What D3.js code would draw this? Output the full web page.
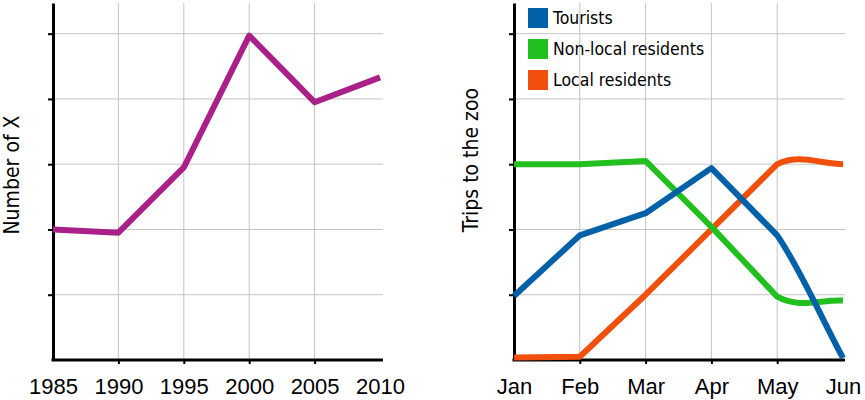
<!DOCTYPE html>
<html>
<head>
<meta charset="utf-8">
<script src="https://cdn.jsdelivr.net/npm/d3@7"></script>
<style>
  html, body { margin: 0; padding: 0; background: #fff; }
  svg { display: block; font-family: "DejaVu Sans Condensed", "Liberation Sans Narrow", sans-serif; font-stretch: condensed; }
  .grid line { stroke: #c4c4c4; stroke-width: 1; }
  .axis path, .axis line { stroke: #000; }
  .axis path { stroke-width: 3; }
  .axis line { stroke-width: 2; }
  .axis text { font-size: 22px; fill: #000; }
  .ylabel { font-size: 21px; fill: #000; }
  .legend text { font-size: 17.5px; fill: #000; }
</style>
</head>
<body>
<svg id="chart" width="865" height="400"></svg>
<script>
// Left chart
const years = [1985, 1990, 1995, 2000, 2005, 2010];
const numberOfX = [2.0, 1.95, 2.95, 4.97, 3.95, 4.33];

// Right chart
const months = ["Jan", "Feb", "Mar", "Apr", "May", "Jun"];
const tourists = [0.98, 1.91, 2.25, 2.94, 1.91, 0.03];
const nonLocal = [3.0, 3.0, 3.05, 2.04, 0.97, 0.91];
const local = [0.04, 0.05, 1.0, 2.0, 3.0, 3.0];

const seriesNames = ["Tourists", "Non-local residents", "Local residents"];
const seriesColors = ["#0061a9", "#21c01f", "#f0500c"];

const gridValues = [1, 2, 3, 4, 5];

const svg = d3.select("#chart");
const plotTop = 3, plotBottom = 360;
const yMax = 5.47;

function drawFrame(x, xTicks, gridX, y, left, right, fmt) {
  const g = svg.append("g");
  // gridlines
  const grid = g.append("g").attr("class", "grid");
  grid.selectAll(".h").data(gridValues).join("line")
    .attr("x1", left).attr("x2", right)
    .attr("y1", (d) => y(d)).attr("y2", (d) => y(d));
  grid.selectAll(".v").data(gridX).join("line")
    .attr("x1", (d) => x(d)).attr("x2", (d) => x(d))
    .attr("y1", plotTop).attr("y2", plotBottom);

  // y axis: ticks only at gridlines
  const yAxis = d3.axisLeft(y).tickValues(gridValues).tickFormat("").tickSize(5).tickSizeOuter(0);
  g.append("g").attr("class", "axis")
    .attr("transform", `translate(${left},0)`)
    .call(yAxis);

  // x axis
  const xAxis = d3.axisBottom(x).tickValues(xTicks).tickFormat(fmt).tickSize(4).tickPadding(14).tickSizeOuter(0);
  const gx = g.append("g").attr("class", "axis")
    .attr("transform", `translate(0,${plotBottom})`)
    .call(xAxis);
  gx.select(".domain").attr("d", `M${left - 1.5},0H${right}`);
  // no tick marks at the ends
  gx.selectAll(".tick line").filter((d) => !gridX.includes(d)).remove();
  return g;
}

// ---------- Left panel ----------
{
  const left = 53, right = 383;
  const x = d3.scaleLinear().domain([1985, 2010]).range([53, 380]);
  const y = d3.scaleLinear().domain([0, yMax]).range([plotBottom, plotTop]);
  drawFrame(x, years, years.slice(1, 5), y, left, right, d3.format("d"));

  const line = d3.line().x((d, i) => x(years[i])).y((d) => y(d));
  svg.append("path")
    .attr("d", line(numberOfX))
    .attr("fill", "none")
    .attr("stroke", "#a92089")
    .attr("stroke-width", 6)
    .attr("stroke-linejoin", "round");

  svg.append("text").attr("class", "ylabel")
    .attr("transform", `translate(19,175) rotate(-90)`)
    .attr("text-anchor", "middle")
    .text("Number of X");
}

// ---------- Right panel ----------
{
  const left = 514, right = 845;
  const x = d3.scalePoint().domain(months).range([514, 843]);
  const y = d3.scaleLinear().domain([0, yMax]).range([plotBottom, plotTop]);
  drawFrame(x, months, months.slice(1, 5), y, left, right, (d) => d);

  // straight segments, with a smooth final segment (Catmull-Rom style tangent at the last joint)
  function seriesPath(values) {
    const n = values.length;
    const pts = values.map((v, i) => [x(months[i]), y(v)]);
    const p = d3.path();
    p.moveTo(pts[0][0], pts[0][1]);
    for (let i = 1; i < n - 1; i++) p.lineTo(pts[i][0], pts[i][1]);
    const a = pts[n - 3], b = pts[n - 2], c = pts[n - 1];
    const c1 = [b[0] + (c[0] - a[0]) / 6, b[1] + (c[1] - a[1]) / 6];
    const c2 = [c[0] - (c[0] - b[0]) / 3, c[1] - (c[1] - b[1]) / 3];
    p.bezierCurveTo(c1[0], c1[1], c2[0], c2[1], c[0], c[1]);
    return p.toString();
  }

  const series = [tourists, nonLocal, local];
  // draw order: local residents underneath, tourists on top
  [2, 1, 0].forEach((k) => {
    svg.append("path")
      .attr("d", seriesPath(series[k]))
      .attr("fill", "none")
      .attr("stroke", seriesColors[k])
      .attr("stroke-width", 6)
      .attr("stroke-linejoin", "round");
  });

  svg.append("text").attr("class", "ylabel")
    .attr("transform", `translate(478,160) rotate(-90)`)
    .attr("text-anchor", "middle")
    .text("Trips to the zoo");

  const legend = svg.append("g").attr("class", "legend")
    .attr("transform", "translate(528,8)");
  const rows = legend.selectAll("g").data(seriesNames).join("g")
    .attr("transform", (d, i) => `translate(0,${i * 31})`);
  rows.append("rect")
    .attr("width", 20).attr("height", 20)
    .attr("fill", (d, i) => seriesColors[i]);
  rows.append("text")
    .attr("x", 25).attr("y", 16)
    .text((d) => d);
}
</script>
</body>
</html>
